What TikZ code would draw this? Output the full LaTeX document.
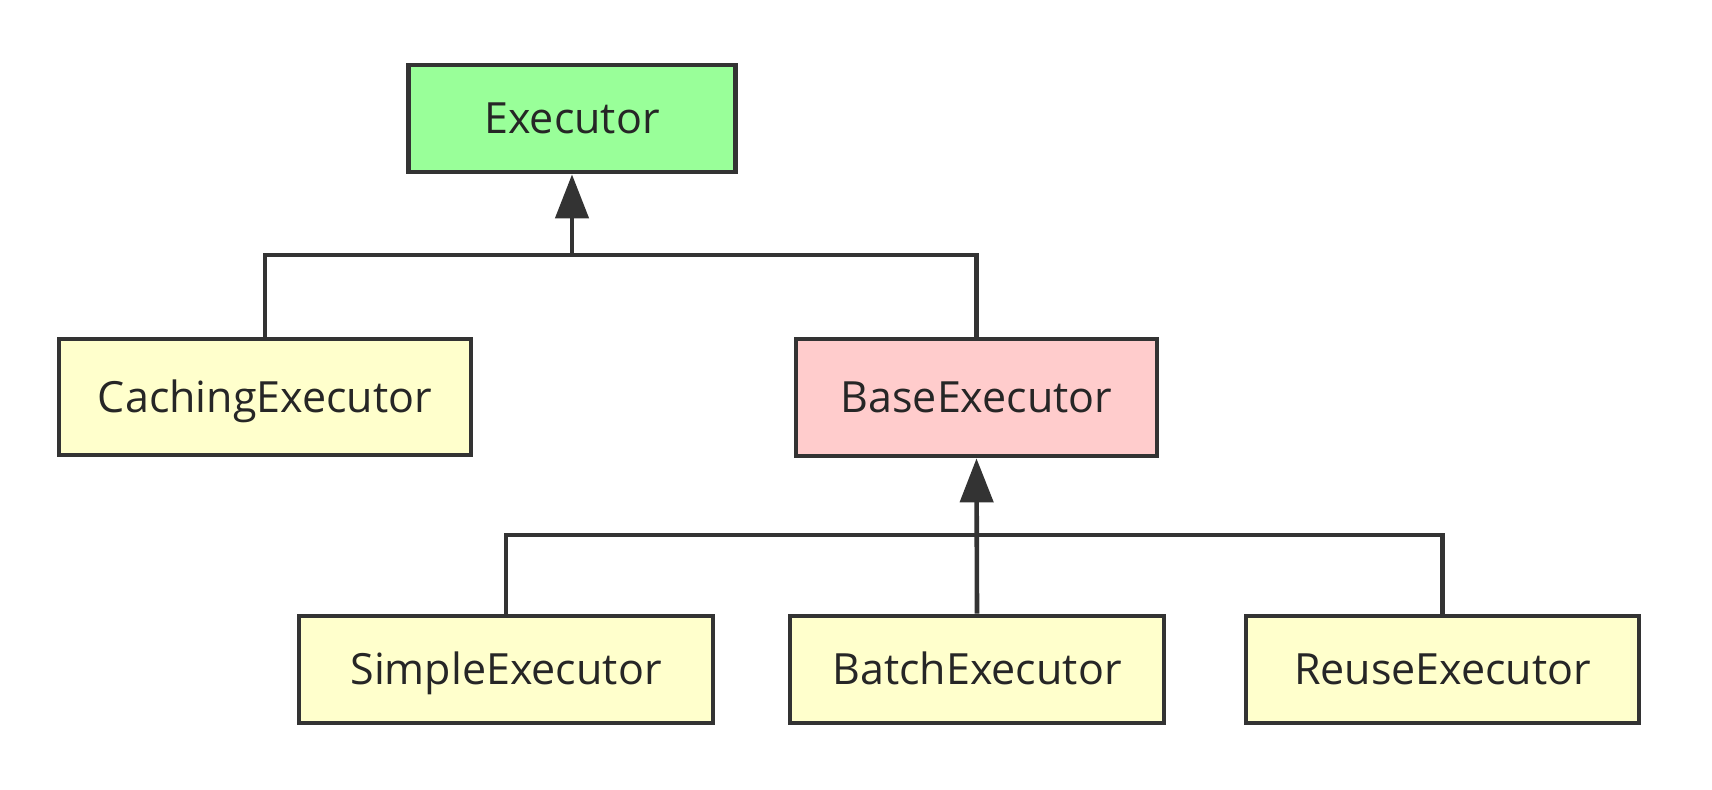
\documentclass[tikz,border=0pt]{standalone}
\usepackage{fontspec}
\setmainfont{Open Sans}
\usetikzlibrary{arrows.meta,shadows}
\definecolor{lncol}{HTML}{333333}
\definecolor{txtcol}{HTML}{262626}
\definecolor{greenfill}{HTML}{99FF99}
\definecolor{yellowfill}{HTML}{FFFFCC}
\definecolor{pinkfill}{HTML}{FFCCCC}
\tikzset{
  cls/.style={draw=lncol, line width=2.4pt, text=txtcol, inner sep=0pt,
    font=\fontsize{21.5}{26}\selectfont, text height=15.3pt, text depth=0pt,
    drop shadow={shadow xshift=1.2pt, shadow yshift=-1.2pt, fill=black!40, opacity=1}},
  conn/.style={draw=lncol, line width=2.3pt},
  inh/.style={conn, -{Triangle[length=22pt,width=16.5pt]}}
}
\begin{document}
\begin{tikzpicture}[x=0.5pt,y=-0.5pt]
\useasboundingbox (0,0) rectangle (1712,790);
\node[cls, fill=greenfill, minimum width=163.5pt, minimum height=53.5pt] (exec) at (572,118.5) {Executor};
\node[cls, fill=yellowfill, minimum width=206pt, minimum height=58pt] (cach) at (265,397) {CachingExecutor};
\node[cls, fill=pinkfill, minimum width=180.5pt, minimum height=58.5pt] (base) at (976.5,397.5) {BaseExecutor};
\node[cls, fill=yellowfill, minimum width=207pt, minimum height=53.5pt] (simple) at (506,669.5) {SimpleExecutor};
\node[cls, fill=yellowfill, minimum width=187pt, minimum height=53.5pt] (batch) at (977,669.5) {BatchExecutor};
\node[cls, fill=yellowfill, minimum width=196.5pt, minimum height=53.5pt] (reuse) at (1442.5,669.5) {ReuseExecutor};
\coordinate (j1) at (572,255);
\coordinate (j2) at (977,535);
\draw[conn] (cach.north) |- (j1);
\draw[conn] (base.north) |- (j1);
\draw[inh] (j1) -- (exec.south);
\draw[conn] (simple.north) |- (j2);
\draw[conn] (reuse.north) |- (j2);
\draw[inh] (batch.north) -- (base.south);
\end{tikzpicture}
\end{document}
